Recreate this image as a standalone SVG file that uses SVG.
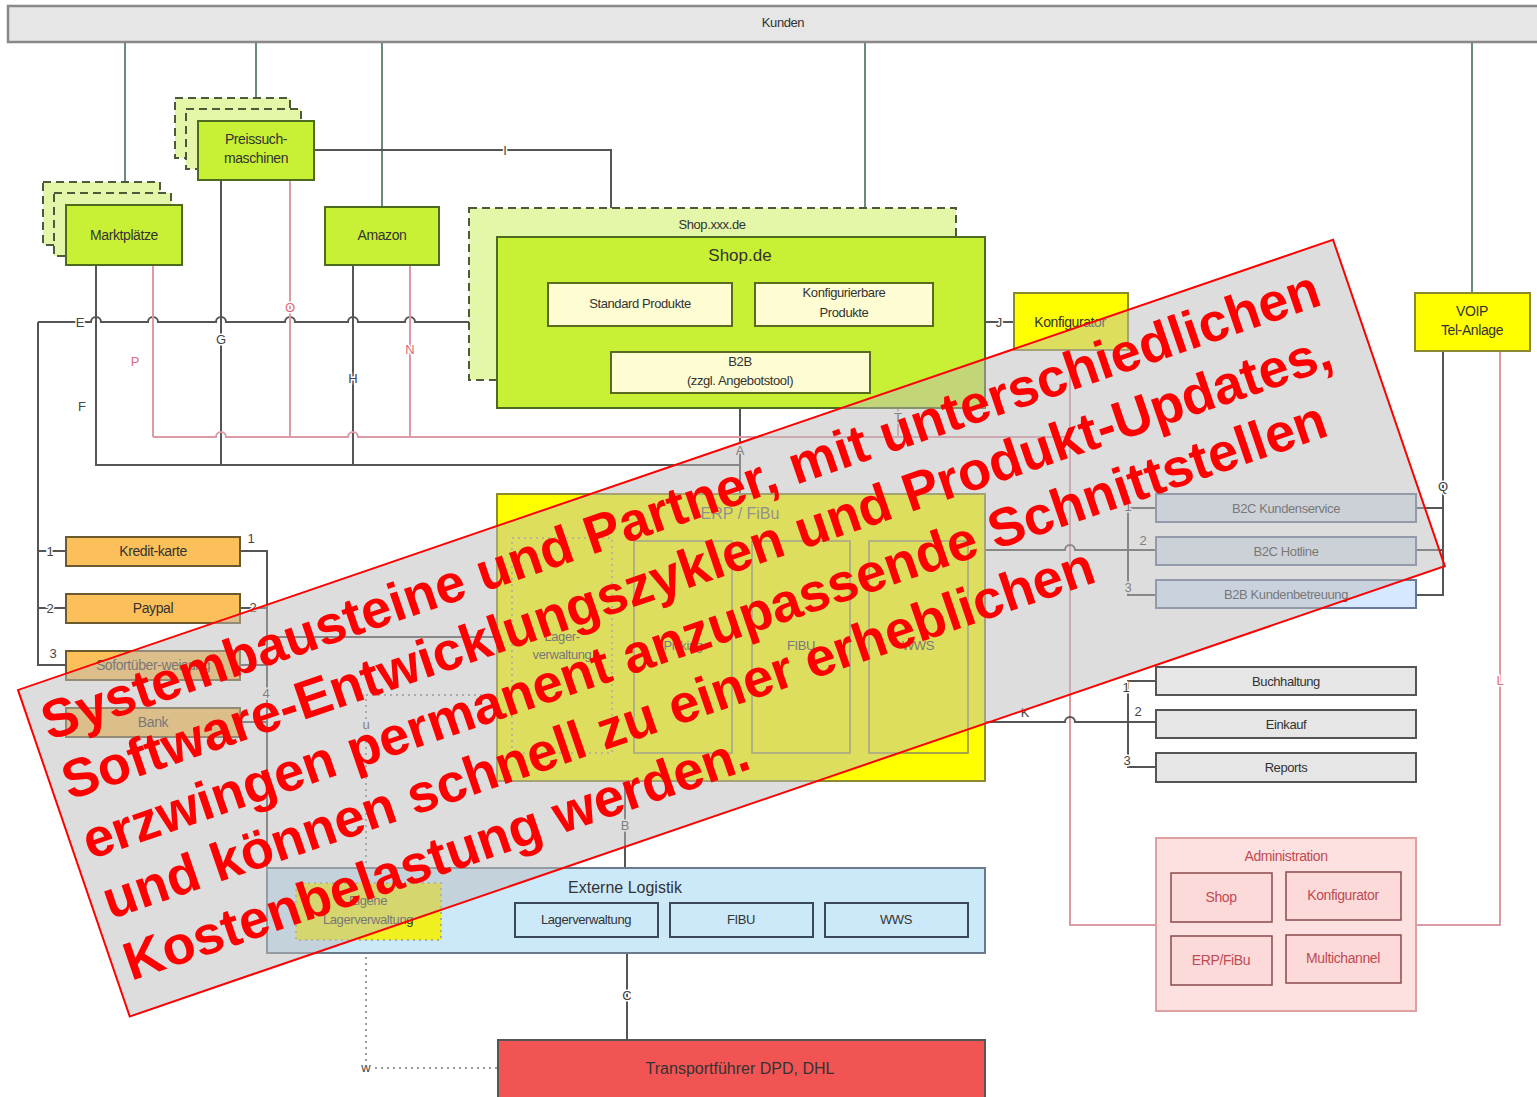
<svg xmlns="http://www.w3.org/2000/svg" width="1537" height="1097" viewBox="0 0 1537 1097">
<style>
text{font-family:"Liberation Sans",Arial,sans-serif;}
.t{font-size:14px;fill:#333;text-anchor:middle;letter-spacing:-0.4px}
.ts{font-size:13px;fill:#333;text-anchor:middle;letter-spacing:-0.4px}
.lb{font-size:13px;fill:#444;text-anchor:middle;stroke:#fff;stroke-width:3px;paint-order:stroke}
.lbp{font-size:13px;fill:#e06a78;text-anchor:middle;stroke:#fff;stroke-width:3px;paint-order:stroke}
.g{fill:#c8f034;stroke:#4d6b1f;stroke-width:2}
.gd{fill:#e4f7a8;stroke:#4a5a3a;stroke-width:2;stroke-dasharray:8 5}
.cream{fill:#fdfcd2;stroke:#5a6b20;stroke-width:2}
.yel{fill:#ffff00;stroke:#8a8a30;stroke-width:2}
.yin{fill:#ffff00;stroke:#8a8a60;stroke-width:1.5}
.org{fill:#fcc05a;stroke:#6b5a30;stroke-width:2}
.blu{fill:#dde6f2;stroke:#6a7898;stroke-width:2}
.gry{fill:#e6e6e6;stroke:#555;stroke-width:2}
.pk{fill:#fde0e0;stroke:#e0a0a0;stroke-width:2}
.pki{fill:#fcdada;stroke:#8a4a4a;stroke-width:1.5}
.pt{font-size:14px;fill:#c04a52;text-anchor:middle;letter-spacing:-0.4px}
.lb2{fill:#cce9fa;stroke:#6a7a8a;stroke-width:2}
.lbi{fill:#cce9fa;stroke:#3a4a5a;stroke-width:2}
.ln{fill:none;stroke:#555;stroke-width:2}
.lk{fill:none;stroke:#6b8a78;stroke-width:2}
.lp{fill:none;stroke:#dc9aa4;stroke-width:2}
.ld{fill:none;stroke:#999;stroke-width:2;stroke-dasharray:2 4}
.ov{font-size:54px;font-weight:bold;fill:#ff0000}
</style>
<rect width="1537" height="1097" fill="#ffffff"/>

<g id="connectors">
  <path class="lk" d="M125,42 V205 M256,42 V121 M382,42 V207 M865,42 V237 M1472,42 V293"/>
  <path class="ln" d="M314,150 H611 V237"/>
  <path class="ln" d="M38,322 H91 a5,5 0 0 1 10,0 H148 a5,5 0 0 1 10,0 H216 a5,5 0 0 1 10,0 H285 a5,5 0 0 1 10,0 H348 a5,5 0 0 1 10,0 H405 a5,5 0 0 1 10,0 H497"/>
  <path class="ln" d="M38,322 V665 H66 M38,551 H66 M38,608 H66"/>
  <path class="ln" d="M96,265 V465 H740 M221,180 V465 M353,265 V465 M740,408 V494"/>
  <path class="lp" d="M153,265 V437 M290,180 V437 M410,265 V437 M898,408 V437"/>
  <path class="lp" d="M153,437 H216 a5,5 0 0 1 10,0 H348 a5,5 0 0 1 10,0 H1070"/>
  <path class="lp" d="M1070,350 V925 H1156 M1500,351 V925 H1416"/>
  <path class="ln" d="M985,322 H1014"/>
  <path class="ln" d="M985,550 H1065 a5,5 0 0 1 10,0 H1156 M1156,508 H1128 V595 H1156"/>
  <path class="ln" d="M985,722 H1065 a5,5 0 0 1 10,0 H1156 M1156,681 H1128 V767 H1156"/>
  <path class="ln" d="M1443,351 V595 H1416 M1416,508 H1443 M1416,550 H1443"/>
  <path class="ln" d="M240,551 H267 V868 M240,608 H267 M240,665 H267 M240,722 H267 M267,637 H497"/>
  <path class="ld" d="M512,695 H366 V1068 H497"/>
  <path class="ln" d="M625,780 V868 M627,953 V1040"/>
  <text class="lb" x="80" y="327">E</text>
  <text class="lb" x="82" y="411">F</text>
  <text class="lbp" x="135" y="366">P</text>
  <text class="lb" x="221" y="344">G</text>
  <text class="lbp" x="290" y="312">O</text>
  <text class="lb" x="353" y="383">H</text>
  <text class="lbp" x="410" y="354">N</text>
  <text class="lb" x="505" y="155">I</text>
  <text class="lb" x="740" y="455">A</text>
  <text class="lb" x="898" y="422">T</text>
  <text class="lb" x="999" y="327">J</text>
  <text class="lb" x="1443" y="491">Q</text>
  <text class="lbp" x="1500" y="685">L</text>
  <text class="lb" x="1025" y="717">K</text>
  <text class="lb" x="625" y="830">B</text>
  <text class="lb" x="627" y="1000">C</text>
  <text class="lb" x="366" y="729">u</text>
  <text class="lb" x="366" y="1072">w</text>
  <text class="lb" x="251" y="543">1</text>
  <text class="lb" x="253" y="612">2</text>
  <text class="lb" x="266" y="698">4</text>
  <text class="lb" x="50" y="556">1</text>
  <text class="lb" x="50" y="613">2</text>
  <text class="lb" x="53" y="658">3</text>
  <text class="lb" x="1128" y="511">1</text>
  <text class="lb" x="1143" y="545">2</text>
  <text class="lb" x="1128" y="592">3</text>
  <text class="lb" x="1126" y="692">1</text>
  <text class="lb" x="1138" y="716">2</text>
  <text class="lb" x="1127" y="765">3</text>
</g>

<g id="kunden">
  <rect x="8" y="6" width="1540" height="36" fill="#e6e6e6" stroke="#888" stroke-width="2.5"/>
  <text class="ts" x="783" y="27">Kunden</text>
</g>

<g id="marktplaetze">
  <rect class="gd" x="43" y="182" width="117" height="63"/>
  <rect class="gd" x="54" y="193" width="117" height="63"/>
  <rect class="g" x="66" y="205" width="116" height="60"/>
  <text class="t" x="124" y="240">Marktplätze</text>
</g>

<g id="preissuchmaschinen">
  <rect class="gd" x="175" y="98" width="115" height="60"/>
  <rect class="gd" x="186" y="109" width="115" height="60"/>
  <rect class="g" x="198" y="121" width="116" height="59"/>
  <text class="t" x="256" y="144">Preissuch-</text>
  <text class="t" x="256" y="163">maschinen</text>
</g>

<g id="amazon">
  <rect class="g" x="325" y="207" width="114" height="58"/>
  <text class="t" x="382" y="240">Amazon</text>
</g>

<g id="shopxxx">
  <rect class="gd" x="469" y="208" width="487" height="172"/>
  <text class="ts" x="712" y="229">Shop.xxx.de</text>
</g>

<g id="shopde">
  <rect class="g" x="497" y="237" width="488" height="171"/>
  <text x="740" y="261" font-size="17" fill="#333" text-anchor="middle">Shop.de</text>
  <rect class="cream" x="548" y="283" width="184" height="43"/>
  <text class="ts" x="640" y="308">Standard Produkte</text>
  <rect class="cream" x="755" y="283" width="178" height="43"/>
  <text class="ts" x="844" y="297">Konfigurierbare</text>
  <text class="ts" x="844" y="317">Produkte</text>
  <rect class="cream" x="611" y="352" width="259" height="41"/>
  <text class="ts" x="740" y="366">B2B</text>
  <text class="ts" x="740" y="385">(zzgl. Angebotstool)</text>
</g>

<g id="konfigurator">
  <rect class="yel" x="1014" y="293" width="114" height="57"/>
  <text class="t" x="1070" y="327">Konfigurator</text>
</g>

<g id="voip">
  <rect class="yel" x="1415" y="293" width="115" height="58"/>
  <text class="t" x="1472" y="316">VOIP</text>
  <text class="t" x="1472" y="335">Tel-Anlage</text>
</g>

<g id="payment">
  <rect class="org" x="66" y="537" width="174" height="29"/>
  <text class="t" x="153" y="556">Kredit-karte</text>
  <rect class="org" x="66" y="594" width="174" height="29"/>
  <text class="t" x="153" y="613">Paypal</text>
  <rect class="org" x="66" y="651" width="174" height="29"/>
  <text class="t" x="153" y="670">Sofortüber-weisung</text>
  <rect class="org" x="66" y="708" width="174" height="29"/>
  <text class="t" x="153" y="727">Bank</text>
</g>

<g id="erp">
  <rect class="yel" x="497" y="494" width="488" height="287"/>
  <text x="740" y="519" font-size="16" fill="#666" text-anchor="middle">ERP / FiBu</text>
  <rect x="512" y="538" width="100" height="215" fill="none" stroke="#999" stroke-width="1.5" stroke-dasharray="2 4"/>
  <text class="ts" x="562" y="641" fill="#666">Lager-</text>
  <text class="ts" x="562" y="659">verwaltung</text>
  <rect class="yin" x="634" y="541" width="98" height="212"/>
  <text class="ts" x="683" y="650">Picking</text>
  <rect class="yin" x="752" y="541" width="98" height="212"/>
  <text class="ts" x="801" y="650">FIBU</text>
  <rect class="yin" x="869" y="541" width="99" height="212"/>
  <text class="ts" x="918" y="650">WWS</text>
</g>

<g id="b2c">
  <rect class="blu" x="1156" y="494" width="260" height="28"/>
  <text class="ts" x="1286" y="513" fill="#5a6a8a">B2C Kundenservice</text>
  <rect class="blu" x="1156" y="537" width="260" height="28"/>
  <text class="ts" x="1286" y="556">B2C Hotline</text>
  <rect x="1156" y="580" width="260" height="28" fill="#d6e8ff" stroke="#6a7898" stroke-width="2"/>
  <text class="ts" x="1286" y="599">B2B Kundenbetreuung</text>
</g>

<g id="backoffice">
  <rect class="gry" x="1156" y="667" width="260" height="28"/>
  <text class="ts" x="1286" y="686">Buchhaltung</text>
  <rect class="gry" x="1156" y="710" width="260" height="28"/>
  <text class="ts" x="1286" y="729">Einkauf</text>
  <rect class="gry" x="1156" y="753" width="260" height="29"/>
  <text class="ts" x="1286" y="772">Reports</text>
</g>

<g id="administration">
  <rect class="pk" x="1156" y="838" width="260" height="173"/>
  <text class="pt" x="1286" y="861">Administration</text>
  <rect class="pki" x="1171" y="873" width="101" height="49"/>
  <text class="pt" x="1221" y="902">Shop</text>
  <rect class="pki" x="1286" y="872" width="115" height="48"/>
  <text class="pt" x="1343" y="900">Konfigurator</text>
  <rect class="pki" x="1171" y="936" width="101" height="49"/>
  <text class="pt" x="1221" y="965">ERP/FiBu</text>
  <rect class="pki" x="1286" y="935" width="115" height="48"/>
  <text class="pt" x="1343" y="963">Multichannel</text>
</g>

<g id="externe-logistik">
  <rect class="lb2" x="267" y="868" width="718" height="85"/>
  <rect x="296" y="883" width="145" height="57" fill="#f0f020" stroke="#999" stroke-width="1.5" stroke-dasharray="2 4"/>
  <text class="ts" x="368" y="905">Eigene</text>
  <text class="ts" x="368" y="924">Lagerverwaltung</text>
  <text x="625" y="893" font-size="16" fill="#333" text-anchor="middle">Externe Logistik</text>
  <rect class="lbi" x="515" y="903" width="143" height="34"/>
  <text class="ts" x="586" y="924">Lagerverwaltung</text>
  <rect class="lbi" x="670" y="903" width="143" height="34"/>
  <text class="ts" x="741" y="924">FIBU</text>
  <rect class="lbi" x="825" y="903" width="143" height="34"/>
  <text class="ts" x="896" y="924">WWS</text>
</g>

<g id="transport">
  <rect x="498" y="1040" width="487" height="62" fill="#f25454" stroke="#555" stroke-width="2"/>
  <text x="740" y="1074" font-size="16" fill="#333" text-anchor="middle">Transportführer DPD, DHL</text>
</g>

<g id="overlay" transform="translate(18,690) rotate(-18.9)">
  <rect x="0" y="0" width="1390" height="345" fill="#bcbcbc" fill-opacity="0.5" stroke="#ff0000" stroke-width="2"/>
  <text class="ov" x="13" y="58">Systembausteine und Partner, mit unterschiedlichen</text>
  <text class="ov" x="13" y="121">Software-Entwicklungszyklen und Produkt-Updates,</text>
  <text class="ov" x="13" y="184">erzwingen permanent anzupassende Schnittstellen</text>
  <text class="ov" x="13" y="247">und können schnell zu einer erheblichen</text>
  <text class="ov" x="13" y="312">Kostenbelastung werden.</text>
</g>
</svg>
